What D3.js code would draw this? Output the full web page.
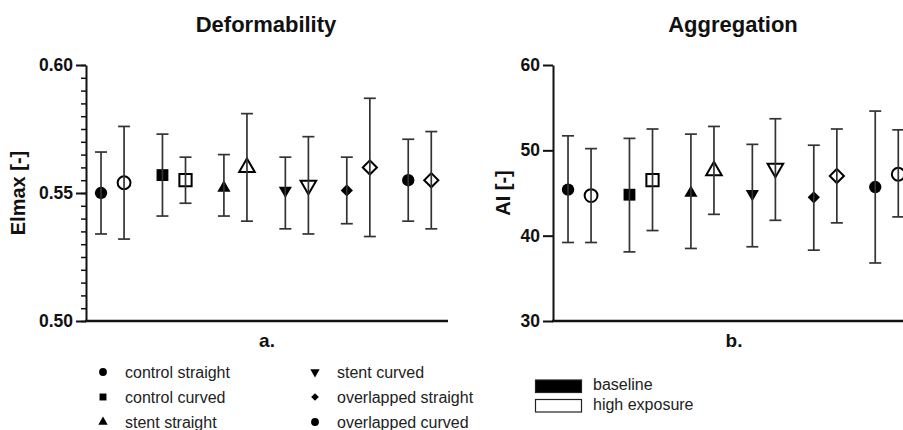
<!DOCTYPE html>
<html>
<head>
<meta charset="utf-8">
<style>
    body { margin: 0; background: #fff; }
    svg { font-family: 'Liberation Sans', Arial, sans-serif; display: block; }
    .axis .domain { stroke: #111; stroke-width: 2px; }
    .axis .tick line { stroke: #111; stroke-width: 2px; }
    .axis .tick text { font-size: 17.5px; font-weight: bold; fill: #111; }
    .minor .domain { display: none; }
    .minor .tick line { stroke: #111; stroke-width: 1.5px; }
    .legend text { font-size: 16px; fill: #222; }
</style>
</head>
<body>
<svg width="903" height="430"></svg>
<script src="https://d3js.org/d3.v7.min.js"></script>
<script>

// groups and marker shapes
const groups = ["control straight", "control curved", "stent straight", "stent curved", "overlapped straight", "overlapped curved"];
const shapesBase = ["circle", "square", "triangle", "triangleDown", "diamond", "circle"];
const shapesHighA = ["circle", "square", "triangle", "triangleDown", "diamond", "diamond"];
const shapesHighB = ["circle", "square", "triangle", "triangleDown", "diamond", "circle"];

// a. Deformability (EImax)
const elmaxBase   = [0.550, 0.557, 0.552, 0.551, 0.551, 0.555];
const elmaxBaseLo = [0.534, 0.541, 0.541, 0.536, 0.538, 0.539];
const elmaxBaseHi = [0.566, 0.573, 0.565, 0.564, 0.564, 0.571];
const elmaxHigh   = [0.554, 0.555, 0.560, 0.553, 0.560, 0.555];
const elmaxHighLo = [0.532, 0.546, 0.539, 0.534, 0.533, 0.536];
const elmaxHighHi = [0.576, 0.564, 0.581, 0.572, 0.587, 0.574];

// b. Aggregation (AI)
const aiBase   = [45.4, 44.8, 45.0, 44.9, 44.5, 45.7];
const aiBaseLo = [39.2, 38.1, 38.5, 38.7, 38.3, 36.8];
const aiBaseHi = [51.7, 51.4, 51.9, 50.7, 50.6, 54.6];
const aiHigh   = [44.7, 46.5, 47.6, 47.9, 47.0, 47.2];
const aiHighLo = [39.2, 40.6, 42.5, 41.8, 41.5, 42.2];
const aiHighHi = [50.2, 52.5, 52.8, 53.7, 52.5, 52.4];

const elmaxTicks = [0.50, 0.55, 0.60];
const aiTicks = [30, 40, 50, 60];

const svg = d3.select("svg");

const plotTop = 65, plotBottom = 321, panelW = 362;

function symbolPath(shape, open) {
    if (shape === "circle") return d3.symbol(d3.symbolCircle, open ? 130 : 120)();
    if (shape === "square") return d3.symbol(d3.symbolSquare, open ? 150 : 140)();
    if (shape === "triangle" || shape === "triangleDown") return d3.symbol(d3.symbolTriangle, open ? 105 : 75)();
    if (shape === "diamond") return d3.symbol(d3.symbolSquare, open ? 100 : 75)();
    return d3.symbol(d3.symbolCircle, 120)();
}
function symbolRotate(shape) {
    if (shape === "triangleDown") return 180;
    if (shape === "diamond") return 45;
    return 0;
}

function drawPanel(cfg) {
    const g = svg.append("g");

    let y = d3.scaleLinear().domain(cfg.domain).range([plotBottom, plotTop]);

    let x = d3.scaleBand()
        .domain(groups)
        .range([cfg.axisX + 3.5, cfg.axisX + 3.5 + 353.3])
        .paddingInner(0.25)
        .paddingOuter(0);

    let inner = d3.scaleBand()
        .domain(["baseline", "high"])
        .range([0, x.bandwidth()]);

    // minor ticks
    if (cfg.minor) {
        g.append("g")
            .attr("class", "minor")
            .attr("transform", `translate(${cfg.axisX},0)`)
            .call(d3.axisLeft(y).tickValues(cfg.minor).tickSize(5).tickFormat(""));
    }

    g.append("g")
        .attr("class", "axis")
        .attr("transform", `translate(${cfg.axisX},0)`)
        .call(d3.axisLeft(y).tickValues(cfg.ticks).tickSize(10).tickSizeOuter(0)
            .tickPadding(3).tickFormat(cfg.format));

    // x axis line
    g.append("line")
        .attr("x1", cfg.axisX - 1).attr("x2", cfg.axisX + panelW)
        .attr("y1", plotBottom).attr("y2", plotBottom)
        .style("stroke", "#111").style("stroke-width", 2.5);

    // points
    let pts = [];
    groups.forEach(function (grp, i) {
        pts.push({ grp: grp, kind: "baseline", v: cfg.base[i], lo: cfg.baseLo[i], hi: cfg.baseHi[i], shape: shapesBase[i], open: false });
        pts.push({ grp: grp, kind: "high", v: cfg.high[i], lo: cfg.highLo[i], hi: cfg.highHi[i], shape: cfg.highShapes[i], open: true });
    });
    const cx = d => x(d.grp) + inner(d.kind) + inner.bandwidth() / 2;

    const marks = g.selectAll(".pt").data(pts).join("g")
        .attr("class", "pt")
        .attr("transform", d => `translate(${cx(d)},0)`);

    marks.append("path")
        .attr("transform", d => `translate(0,${y(d.v)}) rotate(${symbolRotate(d.shape)})`)
        .attr("d", d => symbolPath(d.shape, d.open))
        .style("fill", d => d.open ? "#fff" : "#000")
        .style("stroke", "#000")
        .style("stroke-width", d => d.open ? 2 : 0);

    marks.append("line")
        .attr("y1", d => y(d.lo)).attr("y2", d => y(d.hi))
        .style("stroke", "#333").style("stroke-width", 1.7);
    marks.append("line")
        .attr("x1", -6).attr("x2", 6)
        .attr("y1", d => y(d.hi)).attr("y2", d => y(d.hi))
        .style("stroke", "#333").style("stroke-width", 1.7);
    marks.append("line")
        .attr("x1", -6).attr("x2", 6)
        .attr("y1", d => y(d.lo)).attr("y2", d => y(d.lo))
        .style("stroke", "#333").style("stroke-width", 1.7);

    // titles
    g.append("text")
        .attr("x", cfg.axisX + panelW / 2 - 1).attr("y", 32)
        .attr("text-anchor", "middle")
        .style("font-size", "22px").style("font-weight", "bold").style("fill", "#111")
        .text(cfg.title);

    g.append("text")
        .attr("transform", `translate(${cfg.labelX},${(plotTop + plotBottom) / 2}) rotate(-90)`)
        .attr("text-anchor", "middle")
        .style("font-size", "20px").style("font-weight", "bold").style("fill", "#111")
        .text(cfg.ylabel);

    g.append("text")
        .attr("x", cfg.axisX + panelW / 2).attr("y", 347)
        .attr("text-anchor", "middle")
        .style("font-size", "19px").style("font-weight", "bold").style("fill", "#111")
        .text(cfg.letter);
}

drawPanel({
    axisX: 86, domain: [0.50, 0.60], ticks: elmaxTicks,
    minor: d3.range(0, 21).map(i => 0.50 + i * 0.005),
    format: d3.format(".2f"),
    base: elmaxBase, baseLo: elmaxBaseLo, baseHi: elmaxBaseHi,
    high: elmaxHigh, highLo: elmaxHighLo, highHi: elmaxHighHi,
    highShapes: shapesHighA,
    title: "Deformability", ylabel: "Elmax [-]", labelX: 25, letter: "a."
});

drawPanel({
    axisX: 553, domain: [30, 60], ticks: aiTicks, minor: null,
    format: d3.format("d"),
    base: aiBase, baseLo: aiBaseLo, baseHi: aiBaseHi,
    high: aiHigh, highLo: aiHighLo, highHi: aiHighHi,
    highShapes: shapesHighB,
    title: "Aggregation", ylabel: "AI [-]", labelX: 510, letter: "b."
});

// legend: groups
const leg = svg.append("g").attr("class", "legend");
groups.forEach(function (grp, i) {
    const col = Math.floor(i / 3), row = i % 3;
    const lx = 103 + col * 212, ly = 372 + row * 25;
    leg.append("path")
        .attr("transform", `translate(${lx},${ly}) rotate(${symbolRotate(shapesBase[i])})`)
        .attr("d", d3.symbol(shapesBase[i] === "circle" ? d3.symbolCircle :
            shapesBase[i] === "square" ? d3.symbolSquare :
            shapesBase[i] === "diamond" ? d3.symbolSquare : d3.symbolTriangle,
            shapesBase[i] === "diamond" ? 30 : shapesBase[i] === "triangle" || shapesBase[i] === "triangleDown" ? 38 : 48)())
        .style("fill", "#000");
    leg.append("text")
        .attr("x", lx + 22).attr("y", ly + 5.5)
        .text(grp);
});

// legend: exposure
const expo = ["baseline", "high exposure"];
expo.forEach(function (e, i) {
    const ry = 380 + i * 19.5;
    leg.append("rect")
        .attr("x", 535.5).attr("y", ry)
        .attr("width", 46).attr("height", 12.5)
        .style("fill", i === 0 ? "#000" : "#fff")
        .style("stroke", "#222").style("stroke-width", 1.2);
    leg.append("text")
        .attr("x", 593).attr("y", ry + 10)
        .text(e);
});

</script>
</body>
</html>
